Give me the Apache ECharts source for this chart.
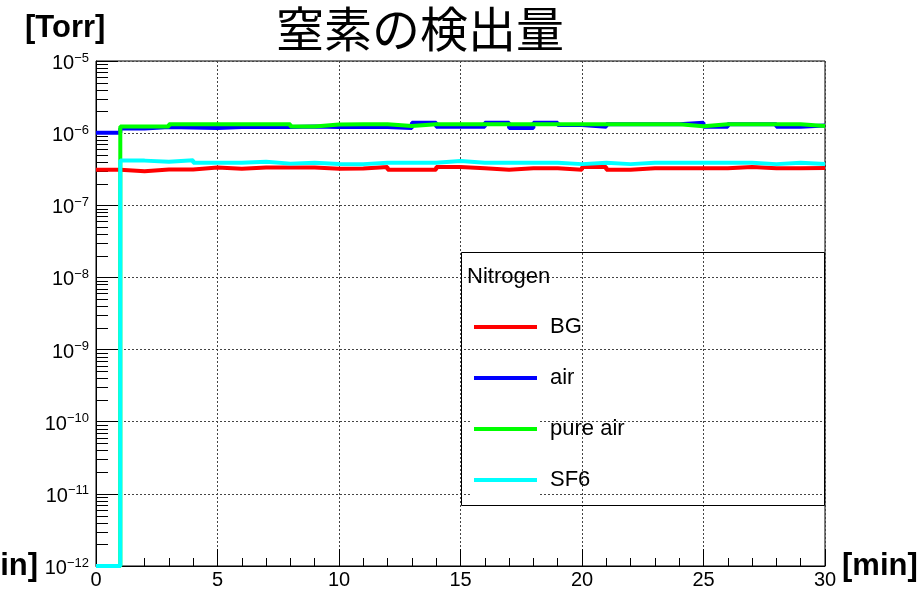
<!DOCTYPE html>
<html>
<head>
<meta charset="utf-8">
<script src="https://cdn.jsdelivr.net/npm/echarts@6/dist/echarts.min.js"></script>
<style>
  html, body { margin: 0; padding: 0; background: #fff; }
  #chart { width: 922px; height: 590px; }
</style>
</head>
<body>
<div id="chart"></div>
<script>
// Histogram bins: 1-minute wide, lower edges in minutes
const binStartMin = [0, 1, 2, 3, 4, 5, 6, 7, 8, 9, 10, 11, 12, 13, 14, 15, 16, 17, 18, 19, 20, 21, 22, 23, 24, 25, 26, 27, 28, 29];
const lastEdgeMin = 30;

// Nitrogen partial pressure per bin [Torr]; 0 = empty bin
const nitrogenBG = [3.10e-7, 2.96e-7, 3.13e-7, 3.13e-7, 3.33e-7, 3.20e-7, 3.33e-7, 3.33e-7, 3.33e-7, 3.20e-7,
                    3.23e-7, 3.40e-7, 3.10e-7, 3.10e-7, 3.40e-7, 3.25e-7, 3.10e-7, 3.25e-7, 3.25e-7, 3.10e-7,
                    3.40e-7, 3.10e-7, 3.25e-7, 3.25e-7, 3.25e-7, 3.25e-7, 3.40e-7, 3.25e-7, 3.25e-7, 3.30e-7];
const nitrogenAir = [1.01e-6, 1.16e-6, 1.22e-6, 1.20e-6, 1.18e-6, 1.22e-6, 1.22e-6, 1.22e-6, 1.24e-6, 1.22e-6,
                     1.22e-6, 1.22e-6, 1.18e-6, 1.39e-6, 1.23e-6, 1.23e-6, 1.39e-6, 1.18e-6, 1.39e-6, 1.30e-6,
                     1.23e-6, 1.33e-6, 1.33e-6, 1.33e-6, 1.39e-6, 1.23e-6, 1.33e-6, 1.33e-6, 1.23e-6, 1.28e-6];
const nitrogenPureAir = [0, 1.24e-6, 1.24e-6, 1.33e-6, 1.33e-6, 1.33e-6, 1.33e-6, 1.33e-6, 1.24e-6, 1.32e-6,
                         1.33e-6, 1.33e-6, 1.26e-6, 1.33e-6, 1.33e-6, 1.33e-6, 1.33e-6, 1.33e-6, 1.33e-6, 1.33e-6,
                         1.33e-6, 1.33e-6, 1.33e-6, 1.33e-6, 1.25e-6, 1.33e-6, 1.33e-6, 1.33e-6, 1.33e-6, 1.26e-6];
const nitrogenSF6 = [0, 4.16e-7, 4.00e-7, 4.20e-7, 3.90e-7, 3.90e-7, 4.00e-7, 3.78e-7, 3.90e-7, 3.74e-7,
                     3.72e-7, 3.90e-7, 3.90e-7, 3.90e-7, 4.10e-7, 3.90e-7, 3.90e-7, 3.90e-7, 3.90e-7, 3.72e-7,
                     3.90e-7, 3.72e-7, 3.90e-7, 3.90e-7, 3.90e-7, 3.90e-7, 3.90e-7, 3.72e-7, 3.90e-7, 3.74e-7];

const seriesNames = ['BG', 'air', 'pure air', 'SF6'];
const seriesColors = ['#ff0000', '#0000ff', '#00ff00', '#00ffff'];
const seriesValues = [nitrogenBG, nitrogenAir, nitrogenPureAir, nitrogenSF6];

// Axis ranges
const xMin = 0, xMax = 30, xMajorStep = 5;
const yExpMin = -12, yExpMax = -5;
const yMin = Math.pow(10, yExpMin), yMax = Math.pow(10, yExpMax);
const yMinorMultipliers = [2, 3, 4, 5, 6, 7, 8, 9];

const FONT = "'Liberation Sans', Arial, sans-serif";

// Legend box layout
const legendBox = { x: 461.5, y: 252.5, w: 363, h: 253 };
const legendFirstRowY = 327, legendRowStep = 51;
const legendSampleX = 474, legendSampleW = 63;

// Step outline of a histogram: left edge of each bin, plus closing right edge.
// Empty bins sit on the axis floor like in a log-scale frame.
function histogramSteps(values) {
  const pts = binStartMin.map((x, i) => [x, values[i] > 0 ? values[i] : yMin]);
  const last = values[values.length - 1];
  pts.push([lastEdgeMin, last > 0 ? last : yMin]);
  return pts;
}

// Minor tick values on the log axis (2..9 in each decade)
const yMinorTicks = [];
for (let e = yExpMin; e < yExpMax; e++) {
  yMinorMultipliers.forEach(m => yMinorTicks.push([xMin, m * Math.pow(10, e)]));
}

const chart = echarts.init(document.getElementById('chart'), null, { renderer: 'canvas' });

const histSeries = seriesNames.map((name, i) => ({
  name: name,
  type: 'line',
  step: 'end',
  data: histogramSteps(seriesValues[i]),
  showSymbol: false,
  symbol: 'none',
  color: seriesColors[i],
  lineStyle: { color: seriesColors[i], width: 4 },
  clip: true,
  silent: true,
  z: 3 + i
}));

// white backing boxes behind the legend line samples
const sampleBacks = seriesNames.map((n, i) => ({
  type: 'rect', z: 1,
  shape: { x: legendSampleX - 2, y: legendFirstRowY + i * legendRowStep - 20, width: legendSampleW + 4, height: 40 },
  style: { fill: '#fff' }
}));

const option = {
  animation: false,
  backgroundColor: '#fff',
  grid: {
    left: 96, right: 97, top: 61, bottom: 22,
    show: true, borderColor: '#000', borderWidth: 1, backgroundColor: 'transparent'
  },
  xAxis: {
    type: 'value',
    min: xMin, max: xMax, interval: xMajorStep,
    axisLine: { show: true, lineStyle: { color: '#000', width: 1 } },
    axisTick: { show: true, inside: true, length: 17, lineStyle: { color: '#000' } },
    minorTick: { show: true, splitNumber: 5, length: 8, lineStyle: { color: '#000' } },
    splitLine: { show: true, lineStyle: { color: '#444', type: [2, 2], width: 1 } },
    axisLabel: {
      color: '#000', fontSize: 20, fontFamily: FONT, margin: 4,
      showMinLabel: true, showMaxLabel: true
    }
  },
  yAxis: {
    type: 'log',
    logBase: 10,
    min: yMin, max: yMax, splitNumber: yExpMax - yExpMin,
    axisLine: { show: true, lineStyle: { color: '#000', width: 1 } },
    axisTick: { show: true, inside: true, length: 22, lineStyle: { color: '#000' } },
    minorTick: { show: false },
    splitLine: { show: true, lineStyle: { color: '#444', type: [2, 2], width: 1 } },
    axisLabel: {
      margin: 7,
      padding: [5, 0, 0, 0],
      showMinLabel: true, showMaxLabel: true,
      formatter: function (v) {
        const e = Math.round(Math.log10(v));
        return '{b|10}{e|\u2212' + Math.abs(e) + '}';
      },
      rich: {
        b: { fontSize: 20, fontFamily: FONT, color: '#000', lineHeight: 24 },
        e: { fontSize: 13, fontFamily: FONT, color: '#000', lineHeight: 10, verticalAlign: 'top' }
      }
    }
  },
  legend: {
    data: seriesNames,
    orient: 'vertical',
    left: legendSampleX, top: legendFirstRowY - legendRowStep / 2,
    padding: 0,
    itemGap: 0,
    itemWidth: legendSampleW, itemHeight: 4,
    icon: 'rect',
    selectedMode: false,
    textStyle: { color: '#000', fontSize: 22, fontFamily: FONT, lineHeight: legendRowStep, padding: [0, 0, 0, 8] }
  },
  graphic: sampleBacks.concat([
    {
      type: 'rect', z: 10,
      shape: { x: legendBox.x, y: legendBox.y, width: legendBox.w, height: legendBox.h },
      style: { fill: 'none', stroke: '#000', lineWidth: 1 }
    },
    {
      type: 'text', z: 10, left: 467, top: 266,
      style: { text: 'Nitrogen', fontSize: 22, fontFamily: FONT, fill: '#000' }
    },
    {
      type: 'text', z: 10, x: 420, y: 29,
      style: { text: '窒素の検出量', fontSize: 48, fontFamily: "'Noto Sans CJK JP', sans-serif",
               fill: '#000', align: 'center', verticalAlign: 'middle' }
    },
    {
      type: 'text', z: 10, x: 25, y: 28,
      style: { text: '[Torr]', fontSize: 31, fontWeight: 'bold', fontFamily: FONT,
               fill: '#000', align: 'left', verticalAlign: 'middle' }
    },
    {
      type: 'text', z: 10, x: 842, y: 566,
      style: { text: '[min]', fontSize: 31, fontWeight: 'bold', fontFamily: FONT,
               fill: '#000', align: 'left', verticalAlign: 'middle' }
    },
    {
      type: 'text', z: 10, x: 38, y: 566,
      style: { text: '[min]', fontSize: 31, fontWeight: 'bold', fontFamily: FONT,
               fill: '#000', align: 'right', verticalAlign: 'middle' }
    }
  ]),
  series: histSeries.concat([{
    // short minor ticks on the log y axis
    type: 'custom',
    name: 'yMinorTicks',
    silent: true,
    clip: false,
    z: 2,
    data: yMinorTicks,
    encode: { x: 0, y: 1 },
    renderItem: function (params, api) {
      const p = api.coord([api.value(0), api.value(1)]);
      const y = Math.round(p[1]) + 0.5;
      return {
        type: 'line',
        shape: { x1: p[0], y1: y, x2: p[0] + 12, y2: y },
        style: { stroke: '#000', lineWidth: 1 }
      };
    }
  }])
};

chart.setOption(option);
</script>
</body>
</html>
